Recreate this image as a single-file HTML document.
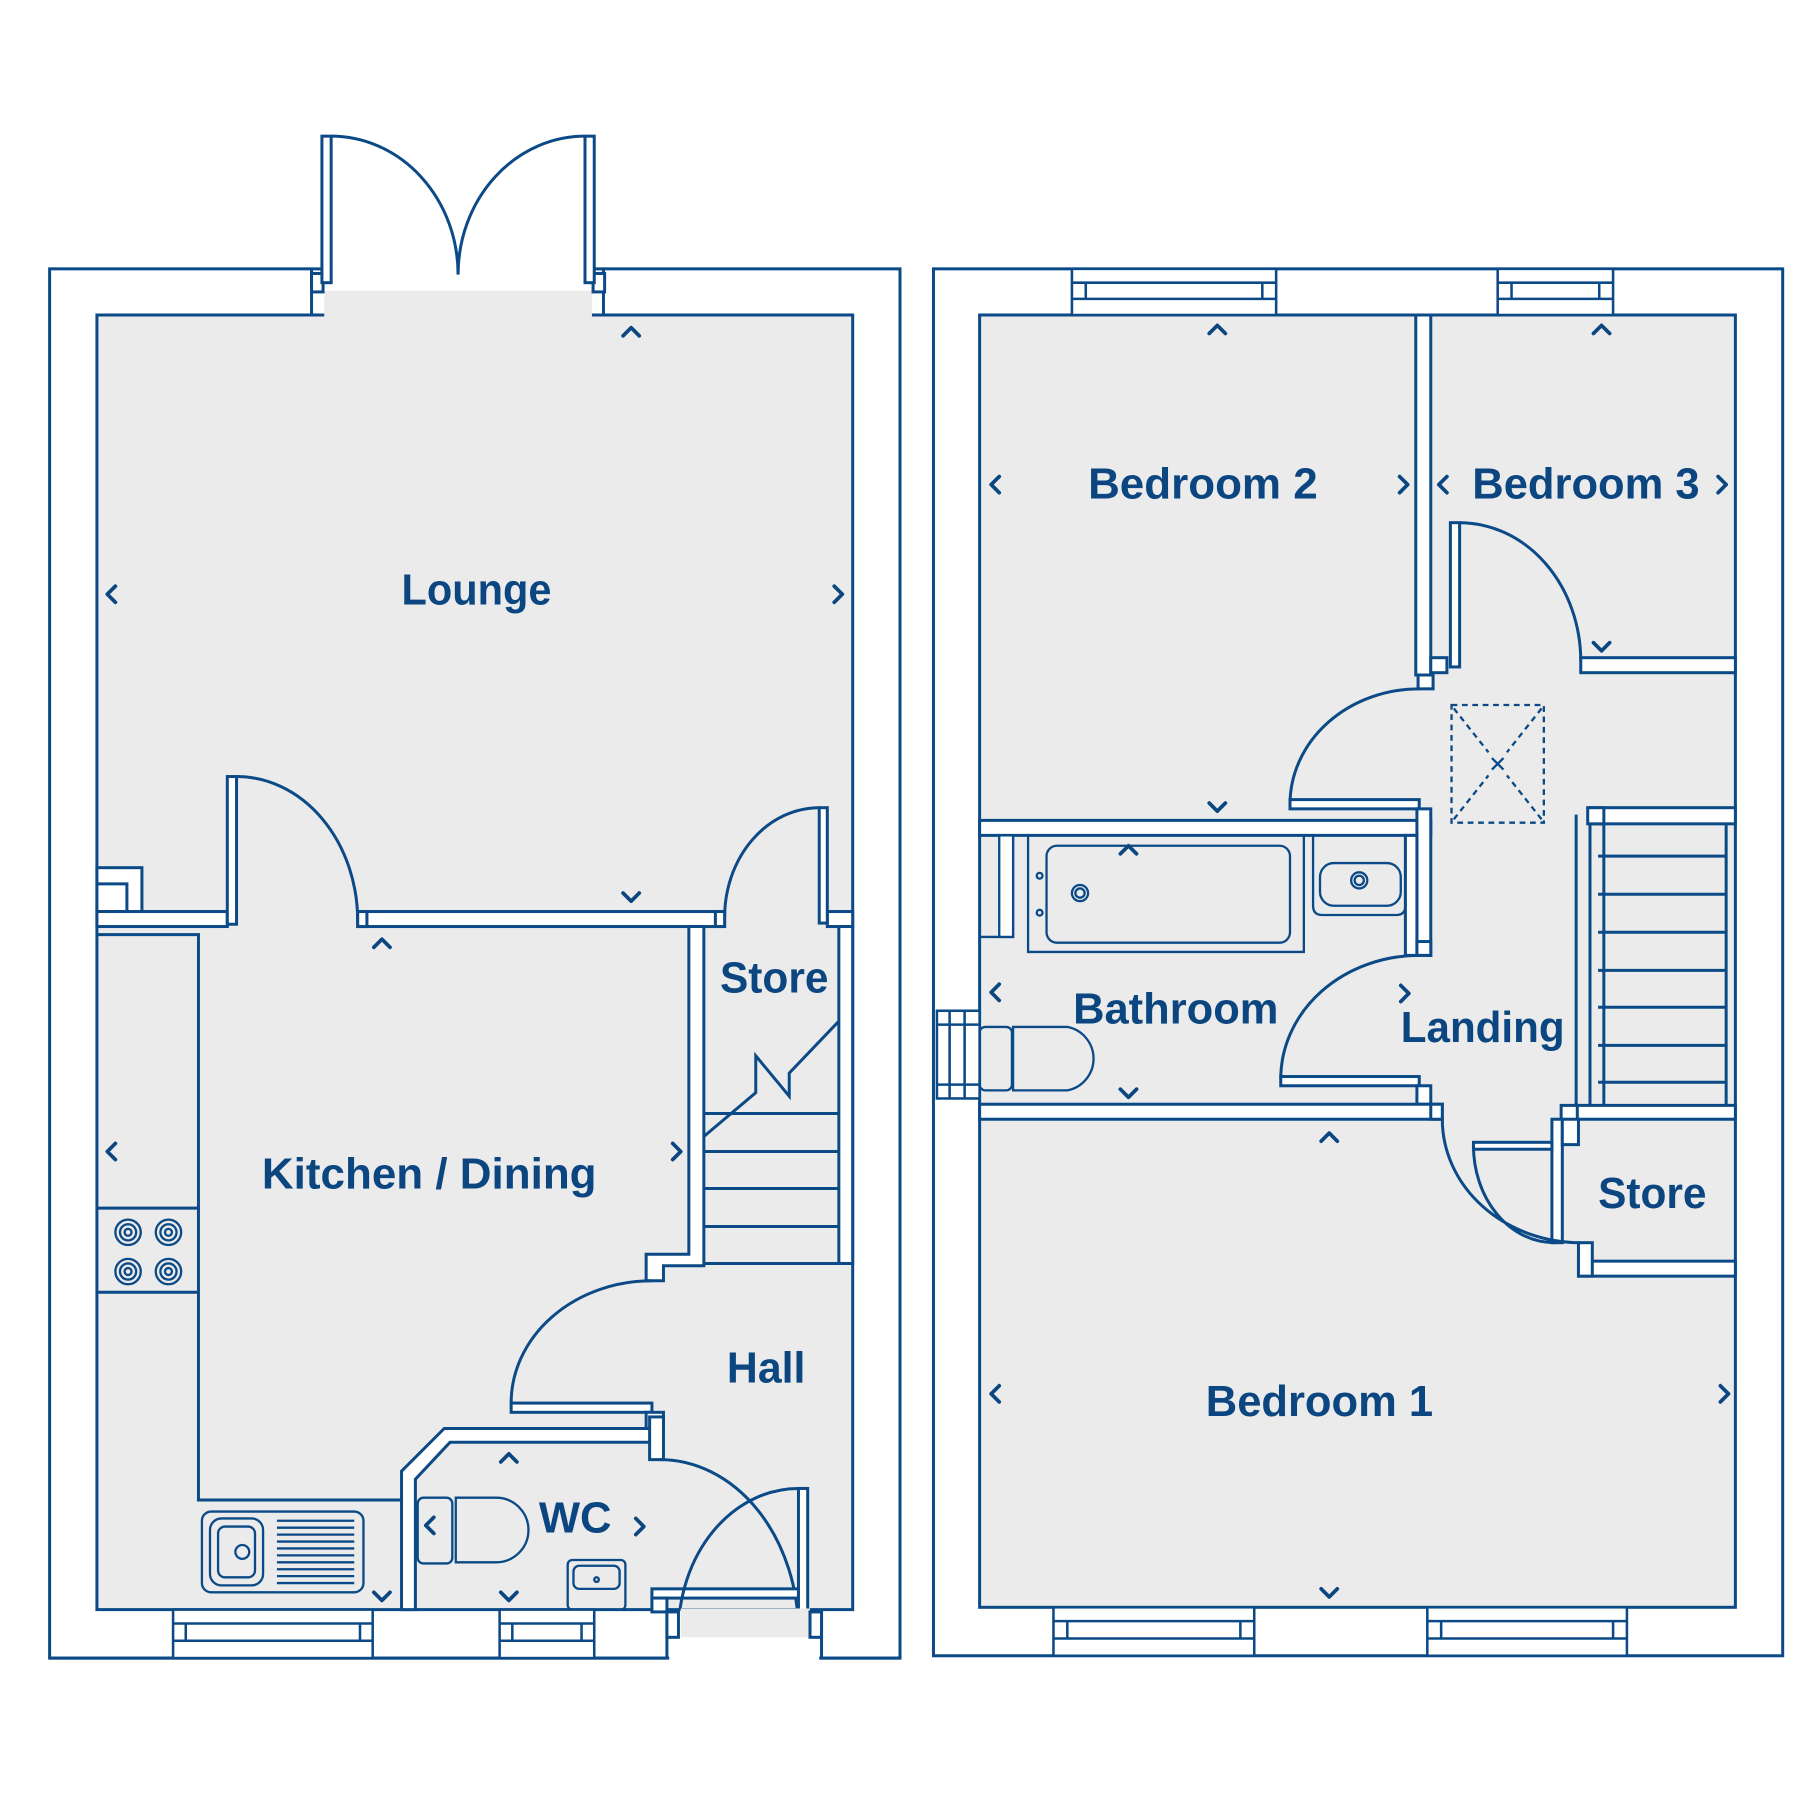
<!DOCTYPE html>
<html><head><meta charset="utf-8"><style>
html,body{margin:0;padding:0;background:#fff}
svg{display:block}
text{font-family:"Liberation Sans",sans-serif;font-weight:bold;fill:#0b4680;font-size:38px}
</style></head><body>
<svg width="1800" height="1800" viewBox="0 0 1560 1560" xmlns="http://www.w3.org/2000/svg">
<g stroke="#0b4a86" stroke-width="2.6" fill="none" stroke-linejoin="miter">
<!-- ===== GROUND FLOOR ===== -->
<rect x="43" y="233" width="737" height="1204" fill="#fff"/>
<rect x="84" y="273" width="655" height="1122" fill="#ebebeb"/>
<!-- garden door opening -->
<rect x="271" y="231" width="251" height="22" fill="#fff" stroke="none"/>
<rect x="281" y="252" width="232" height="24" fill="#ebebeb" stroke="none"/>
<path d="M270,233 V273 M523,233 V273 M270,233 H279 M515,233 H523"/>
<rect x="270" y="237" width="10" height="16" fill="#fff"/>
<rect x="514" y="237" width="10" height="16" fill="#fff"/>
<rect x="279" y="118" width="8" height="127" fill="#fff"/>
<rect x="507" y="118" width="8" height="127" fill="#fff"/>
<path d="M287,118 A110,120 0 0 1 397,238 M507,118 A110,120 0 0 0 397,238"/>
<!-- flue -->
<rect x="84" y="752" width="39" height="38" fill="#fff"/>
<path d="M84,766 H110 V790"/>
<!-- lounge/kitchen wall -->
<rect x="84" y="790" width="113" height="13" fill="#fff"/>
<rect x="310" y="790" width="318" height="13" fill="#fff"/>
<rect x="717" y="790" width="22" height="13" fill="#fff"/>
<rect x="197" y="673" width="8" height="128" fill="#fff"/>
<path d="M205,673 A105,125 0 0 1 310,798"/>
<rect x="710" y="700" width="7" height="100" fill="#fff"/>
<path d="M710,700 A82,95 0 0 0 628,795"/>
<rect x="310" y="790" width="8" height="13" fill="#fff"/>
<rect x="620" y="790" width="8" height="13" fill="#fff"/>
<!-- kitchen right wall -->
<path d="M597,803 H610 V1097 H575 V1110 H560 V1087 H597 Z" fill="#fff"/>
<!-- store right inner wall -->
<rect x="727" y="803" width="12" height="292" fill="#fff"/>
<!-- stairs -->
<path d="M610,965 H727 M610,998 H727 M610,1030 H727 M610,1063 H727 M610,1095 H739"/>
<path d="M610,985 L655,947 V915 L684,950 V930 L727,885"/>
<!-- kitchen counters -->
<path d="M84,810 H172 V1300 H348 M84,1047 H172 M84,1120 H172"/>
<g stroke-width="2">
<circle cx="111" cy="1068" r="11"/><circle cx="111" cy="1068" r="7"/><circle cx="111" cy="1068" r="3"/>
<circle cx="146" cy="1068" r="11"/><circle cx="146" cy="1068" r="7"/><circle cx="146" cy="1068" r="3"/>
<circle cx="111" cy="1102" r="11"/><circle cx="111" cy="1102" r="7"/><circle cx="111" cy="1102" r="3"/>
<circle cx="146" cy="1102" r="11"/><circle cx="146" cy="1102" r="7"/><circle cx="146" cy="1102" r="3"/>
<rect x="175" y="1310" width="140" height="70" rx="8"/>
<rect x="182" y="1316" width="46" height="58" rx="10"/>
<rect x="189" y="1323" width="32" height="44" rx="6"/>
<circle cx="210" cy="1345" r="6"/>
<path d="M240,1318 H307 M240,1324 H307 M240,1330 H307 M240,1336 H307 M240,1342 H307 M240,1348 H307 M240,1354 H307 M240,1360 H307 M240,1366 H307 M240,1372 H307"/>
</g>
<!-- hall door -->
<rect x="443" y="1216" width="122" height="8" fill="#fff"/>
<rect x="560" y="1224" width="15" height="14" fill="#fff"/>
<path d="M443,1216 A122,106 0 0 1 565,1110"/>
<!-- WC walls -->
<path d="M348,1395 V1275 L385,1238 H565 V1250 H390 L360,1282 V1395 Z" fill="#fff"/>
<rect x="563" y="1228" width="12" height="37" fill="#fff"/>
<path d="M572,1265 A120,150 0 0 1 692,1415"/>
<rect x="565" y="1377" width="127" height="8" fill="#fff"/>
<rect x="565" y="1385" width="13" height="12" fill="#fff"/>
<rect x="692" y="1290" width="8" height="125" fill="#fff"/>
<path d="M692,1290 A104,125 0 0 0 588,1415"/>
<!-- WC fittings -->
<g stroke-width="2">
<rect x="362" y="1298" width="30" height="57" rx="5"/>
<path d="M395,1298 H430 A28,28 0 0 1 430,1354 H395 Z"/>
<rect x="492" y="1352" width="50" height="43" rx="4"/>
<rect x="497" y="1357" width="40" height="20" rx="5"/>
<circle cx="517" cy="1369" r="2"/>
</g>
<!-- front door opening -->
<rect x="580" y="1396" width="130" height="43" fill="#fff" stroke="none"/>
<rect x="590" y="1394" width="112" height="25" fill="#ebebeb" stroke="none"/>
<path d="M578,1395 V1437 H43 M712,1395 V1437 H780"/>
<rect x="578" y="1397" width="10" height="22" fill="#fff"/>
<rect x="702" y="1397" width="10" height="22" fill="#fff"/>
<!-- GF windows -->
<g stroke-width="2.2">
<rect x="150" y="1395" width="173" height="42" fill="#fff"/>
<path d="M150,1407 H323 M150,1422 H323 M161,1407 V1422 M312,1407 V1422"/>
<rect x="433" y="1395" width="82" height="42" fill="#fff"/>
<path d="M433,1407 H515 M433,1422 H515 M444,1407 V1422 M504,1407 V1422"/>
</g>

<!-- ===== FIRST FLOOR ===== -->
<rect x="809" y="233" width="736" height="1202" fill="#fff"/>
<rect x="849" y="273" width="655" height="1120" fill="#ebebeb"/>
<g stroke-width="2.2">
<rect x="929" y="233" width="177" height="40" fill="#fff"/>
<path d="M929,245 H1106 M929,259 H1106 M941,245 V259 M1094,245 V259"/>
<rect x="1298" y="233" width="100" height="40" fill="#fff"/>
<path d="M1298,245 H1398 M1298,259 H1398 M1310,245 V259 M1386,245 V259"/>
<rect x="913" y="1393" width="174" height="42" fill="#fff"/>
<path d="M913,1405 H1087 M913,1420 H1087 M925,1405 V1420 M1075,1405 V1420"/>
<rect x="1237" y="1393" width="173" height="42" fill="#fff"/>
<path d="M1237,1405 H1410 M1237,1420 H1410 M1249,1405 V1420 M1398,1405 V1420"/>
<rect x="812" y="876" width="37" height="76" fill="#fff"/>
<path d="M823,876 V952 M836,876 V952 M812,888 H849 M812,940 H849"/>
</g>
<!-- bed2/bed3 wall -->
<rect x="1227" y="273" width="13" height="312" fill="#fff"/>
<rect x="1240" y="570" width="14" height="13" fill="#fff"/>
<rect x="1229" y="585" width="13" height="12" fill="#fff"/>
<rect x="1257" y="453" width="8" height="125" fill="#fff"/>
<path d="M1265,453 A105,120 0 0 1 1370,573"/>
<rect x="1370" y="570" width="134" height="13" fill="#fff"/>
<!-- bed2 door -->
<path d="M1230,597 A112,100 0 0 0 1118,697"/>
<rect x="1118" y="693" width="112" height="8" fill="#fff"/>
<!-- bed2/bath wall -->
<rect x="849" y="711" width="391" height="13" fill="#fff"/>
<rect x="1228" y="701" width="12" height="127" fill="#fff"/>
<rect x="1218" y="724" width="10" height="104" fill="#fff"/>
<rect x="1228" y="816" width="12" height="12" fill="#fff"/>
<!-- loft hatch -->
<g stroke-width="2" stroke-dasharray="5,4">
<rect x="1258" y="611" width="80" height="102"/>
<path d="M1260,614 L1290,652 M1336,614 L1306,652 M1260,710 L1290,672 M1336,710 L1306,672"/>
</g>
<path d="M1293,657 L1303,667 M1303,657 L1293,667" stroke-width="2"/>
<!-- bath fittings -->
<g stroke-width="2">
<path d="M849,812 H878 V724 M891,724 V825 H1130 V724"/>
<rect x="866" y="724" width="12" height="88" fill="#fff"/>
<rect x="907" y="733" width="211" height="84" rx="9"/>
<circle cx="936" cy="774" r="7"/><circle cx="936" cy="774" r="4"/>
<circle cx="901" cy="759" r="2.5"/><circle cx="901" cy="791" r="2.5"/>
<path d="M1138,724 V785 Q1138,793 1146,793 H1210 Q1218,793 1218,785 V724"/>
<rect x="1144" y="748" width="70" height="37" rx="12"/>
<circle cx="1178" cy="763" r="7"/><circle cx="1178" cy="763" r="4"/>
<rect x="849" y="890" width="28" height="55" rx="5"/>
<path d="M878,890 H925 A28,28 0 0 1 925,945 H878 Z"/>
</g>
<!-- bathroom door -->
<path d="M1230,828 A120,107 0 0 0 1110,935"/>
<rect x="1110" y="933" width="120" height="8" fill="#fff"/>
<rect x="1228" y="941" width="12" height="16" fill="#fff"/>
<!-- bath/bed1 wall -->
<rect x="849" y="957" width="401" height="13" fill="#fff"/>
<rect x="1240" y="957" width="10" height="13" fill="#fff"/>
<!-- stairs -->
<rect x="1378" y="700" width="126" height="14" fill="#fff"/>
<rect x="1376" y="700" width="14" height="14" fill="#fff"/>
<path d="M1366,706 V960 M1378,714 V960 M1390,714 V960 M1496,714 V960"/>
<path d="M1385,742 H1496 M1385,775 H1496 M1385,808 H1496 M1385,841 H1496 M1385,873 H1496 M1385,906 H1496 M1385,938 H1496"/>
<rect x="1365" y="958" width="139" height="12" fill="#fff"/>
<rect x="1353" y="958" width="14" height="14" fill="#fff"/>
<!-- store -->
<rect x="1345" y="970" width="9" height="107" fill="#fff"/>
<rect x="1354" y="970" width="14" height="22" fill="#fff"/>
<rect x="1368" y="1093" width="136" height="13" fill="#fff"/>
<rect x="1368" y="1077" width="12" height="29" fill="#fff"/>
<rect x="1277" y="990" width="68" height="6" fill="#fff"/>
<path d="M1250,970 A120,107 0 0 0 1370,1077 M1277,993 A70,84 0 0 0 1347,1077"/>
</g>

<!-- chevrons -->
<g stroke="#0b4680" stroke-width="3.2" fill="none" stroke-linecap="round" stroke-linejoin="round">
<path d="M540,291 L547,284 L554,291"/><path d="M100,508 L93,515 L100,522"/><path d="M723,508 L730,515 L723,522"/><path d="M540,774 L547,781 L554,774"/>
<path d="M324,821 L331,814 L338,821"/><path d="M100,991 L93,998 L100,1005"/><path d="M583,991 L590,998 L583,1005"/><path d="M324,1380 L331,1387 L338,1380"/>
<path d="M434,1267 L441,1260 L448,1267"/><path d="M376,1315 L369,1322 L376,1329"/><path d="M551,1316 L558,1323 L551,1330"/><path d="M434,1380 L441,1387 L448,1380"/>
<path d="M1048,289 L1055,282 L1062,289"/><path d="M866,413 L859,420 L866,427"/><path d="M1213,413 L1220,420 L1213,427"/><path d="M1048,696 L1055,703 L1062,696"/>
<path d="M1381,289 L1388,282 L1395,289"/><path d="M1254,413 L1247,420 L1254,427"/><path d="M1489,413 L1496,420 L1489,427"/><path d="M1381,557 L1388,564 L1395,557"/>
<path d="M971,740 L978,733 L985,740"/><path d="M866,853 L859,860 L866,867"/><path d="M971,944 L978,951 L985,944"/><path d="M1214,854 L1221,861 L1214,868"/>
<path d="M1145,989 L1152,982 L1159,989"/><path d="M866,1201 L859,1208 L866,1215"/><path d="M1491,1201 L1498,1208 L1491,1215"/><path d="M1145,1377 L1152,1384 L1159,1377"/>
</g>

<!-- labels -->
<text x="348" y="524" textLength="130" lengthAdjust="spacingAndGlyphs">Lounge</text>
<text x="624" y="860" textLength="94" lengthAdjust="spacingAndGlyphs">Store</text>
<text x="227" y="1030" textLength="290" lengthAdjust="spacingAndGlyphs">Kitchen / Dining</text>
<text x="630" y="1198" textLength="68" lengthAdjust="spacingAndGlyphs">Hall</text>
<text x="467" y="1328" textLength="63" lengthAdjust="spacingAndGlyphs">WC</text>
<text x="943" y="432" textLength="199" lengthAdjust="spacingAndGlyphs">Bedroom 2</text>
<text x="1276" y="432" textLength="197" lengthAdjust="spacingAndGlyphs">Bedroom 3</text>
<text x="930" y="887" textLength="178" lengthAdjust="spacingAndGlyphs">Bathroom</text>
<text x="1214" y="903" textLength="142" lengthAdjust="spacingAndGlyphs">Landing</text>
<text x="1385" y="1047" textLength="94" lengthAdjust="spacingAndGlyphs">Store</text>
<text x="1045" y="1227" textLength="197" lengthAdjust="spacingAndGlyphs">Bedroom 1</text>
</svg>
</body></html>
